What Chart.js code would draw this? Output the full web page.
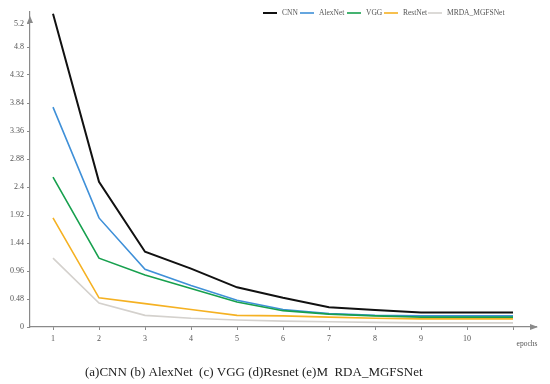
<!DOCTYPE html>
<html lang="en">
<head>
    <meta charset="UTF-8">
    <title>Loss curves</title>
    <style>
        body {
            margin: 0;
            padding: 0;
            background-color: #ffffff;
        }
        #wrap {
            width: 550px;
            height: 384px;
        }
    </style>
</head>
<body>
    <div id="wrap"><canvas id="lossChart" width="550" height="384"></canvas></div>

    <script src="https://cdn.jsdelivr.net/npm/chart.js"></script>
    <script>
        // epochs (point 11 has a tick but no label)
        const epochs = [1, 2, 3, 4, 5, 6, 7, 8, 9, 10, 11];
        const yTicks = [0, 0.48, 0.96, 1.44, 1.92, 2.4, 2.88, 3.36, 3.84, 4.32, 4.8, 5.2];

        const seriesNames = ['CNN', 'AlexNet', 'VGG', 'RestNet', 'MRDA_MGFSNet'];
        const cnnLoss = [5.37, 2.49, 1.29, 1.0, 0.68, 0.5, 0.34, 0.29, 0.25, 0.25, 0.25];
        const alexLoss = [3.77, 1.87, 0.99, 0.71, 0.46, 0.3, 0.23, 0.2, 0.19, 0.19, 0.19];
        const vggLoss = [2.57, 1.18, 0.89, 0.66, 0.43, 0.28, 0.22, 0.19, 0.17, 0.17, 0.17];
        const resLoss = [1.87, 0.5, 0.4, 0.3, 0.2, 0.19, 0.17, 0.15, 0.14, 0.14, 0.14];
        const mrdaLoss = [1.18, 0.41, 0.2, 0.15, 0.12, 0.1, 0.09, 0.08, 0.07, 0.07, 0.07];

        const caption = '(a)CNN (b) AlexNet  (c) VGG (d)Resnet (e)M  RDA_MGFSNet';

        const colors = ['#111111', '#3f90d8', '#17a04e', '#f5b122', '#d4d1cd'];
        const widths = [2, 1.6, 1.6, 1.6, 1.6];

        function toPoints(arr) {
            return arr.map(function (v, i) { return { x: epochs[i], y: v }; });
        }

        const allSeries = [cnnLoss, alexLoss, vggLoss, resLoss, mrdaLoss];
        const datasets = allSeries.map(function (s, i) {
            return {
                label: seriesNames[i],
                data: toPoints(s),
                borderColor: colors[i],
                backgroundColor: colors[i],
                borderWidth: widths[i],
                pointRadius: 0,
                tension: 0,
                fill: false,
                clip: false
            };
        }).reverse(); // draw CNN on top

        const serif = '"Liberation Serif", "DejaVu Serif", serif';
        const axisGray = '#8a8a8a';

        // arrows, axis name, legend and caption
        const extras = {
            id: 'extras',
            afterDraw(chart) {
                const ctx = chart.ctx;
                const a = chart.chartArea;
                ctx.save();
                ctx.fillStyle = axisGray;
                // y arrow
                ctx.beginPath();
                ctx.moveTo(a.left, a.top + 4);
                ctx.lineTo(a.left - 3, a.top + 11);
                ctx.lineTo(a.left + 3, a.top + 11);
                ctx.closePath();
                ctx.fill();
                // x arrow
                ctx.beginPath();
                ctx.moveTo(a.right + 2, a.bottom);
                ctx.lineTo(a.right - 6, a.bottom - 3);
                ctx.lineTo(a.right - 6, a.bottom + 3);
                ctx.closePath();
                ctx.fill();

                ctx.fillStyle = '#555';
                ctx.font = '7.5px ' + serif;
                ctx.textAlign = 'center';
                ctx.textBaseline = 'middle';
                ctx.fillText('epochs', 527, 344);

                // legend
                const legX = [263, 300, 347, 384, 428];
                ctx.font = '7.5px ' + serif;
                ctx.textAlign = 'left';
                for (let i = 0; i < seriesNames.length; i++) {
                    ctx.strokeStyle = colors[i];
                    ctx.lineWidth = i === 0 ? 2 : 1.6;
                    ctx.beginPath();
                    ctx.moveTo(legX[i], 13);
                    ctx.lineTo(legX[i] + 14, 13);
                    ctx.stroke();
                    ctx.fillStyle = '#555';
                    ctx.fillText(seriesNames[i], legX[i] + 19, 13);
                }

                // caption
                ctx.fillStyle = '#222';
                ctx.font = '13px ' + serif;
                ctx.fillText(caption, 85, 373);
                ctx.restore();
            }
        };

        const ctx = document.getElementById('lossChart').getContext('2d');
        new Chart(ctx, {
            type: 'line',
            data: { datasets: datasets },
            plugins: [extras],
            options: {
                responsive: false,
                animation: false,
                layout: { padding: { top: 12, right: 14, bottom: 37, left: 0 } },
                plugins: {
                    legend: { display: false },
                    tooltip: { enabled: false }
                },
                scales: {
                    x: {
                        type: 'linear',
                        min: 0.5,
                        max: 11.5,
                        afterBuildTicks: function (scale) {
                            scale.ticks = epochs.map(function (v) { return { value: v }; });
                        },
                        afterFit: function (scale) { scale.height = 20; },
                        ticks: {
                            autoSkip: false,
                            maxRotation: 0,
                            color: '#555',
                            font: { family: serif, size: 8 },
                            padding: 4,
                            callback: function (v) { return v === 11 ? '' : String(v); }
                        },
                        grid: { drawOnChartArea: false, drawTicks: true, tickLength: 3, color: axisGray },
                        border: { display: true, color: axisGray, width: 1.2 }
                    },
                    y: {
                        min: 0,
                        max: 5.4,
                        afterBuildTicks: function (scale) {
                            scale.ticks = yTicks.map(function (v) { return { value: v }; });
                        },
                        afterFit: function (scale) { scale.width = 30; },
                        ticks: {
                            autoSkip: false,
                            color: '#555',
                            font: { family: serif, size: 8 },
                            padding: 3,
                            callback: function (v) { return String(v); }
                        },
                        grid: { drawOnChartArea: false, drawTicks: true, tickLength: 3, color: axisGray },
                        border: { display: true, color: axisGray, width: 1.2 }
                    }
                }
            }
        });
    </script>
</body>
</html>
